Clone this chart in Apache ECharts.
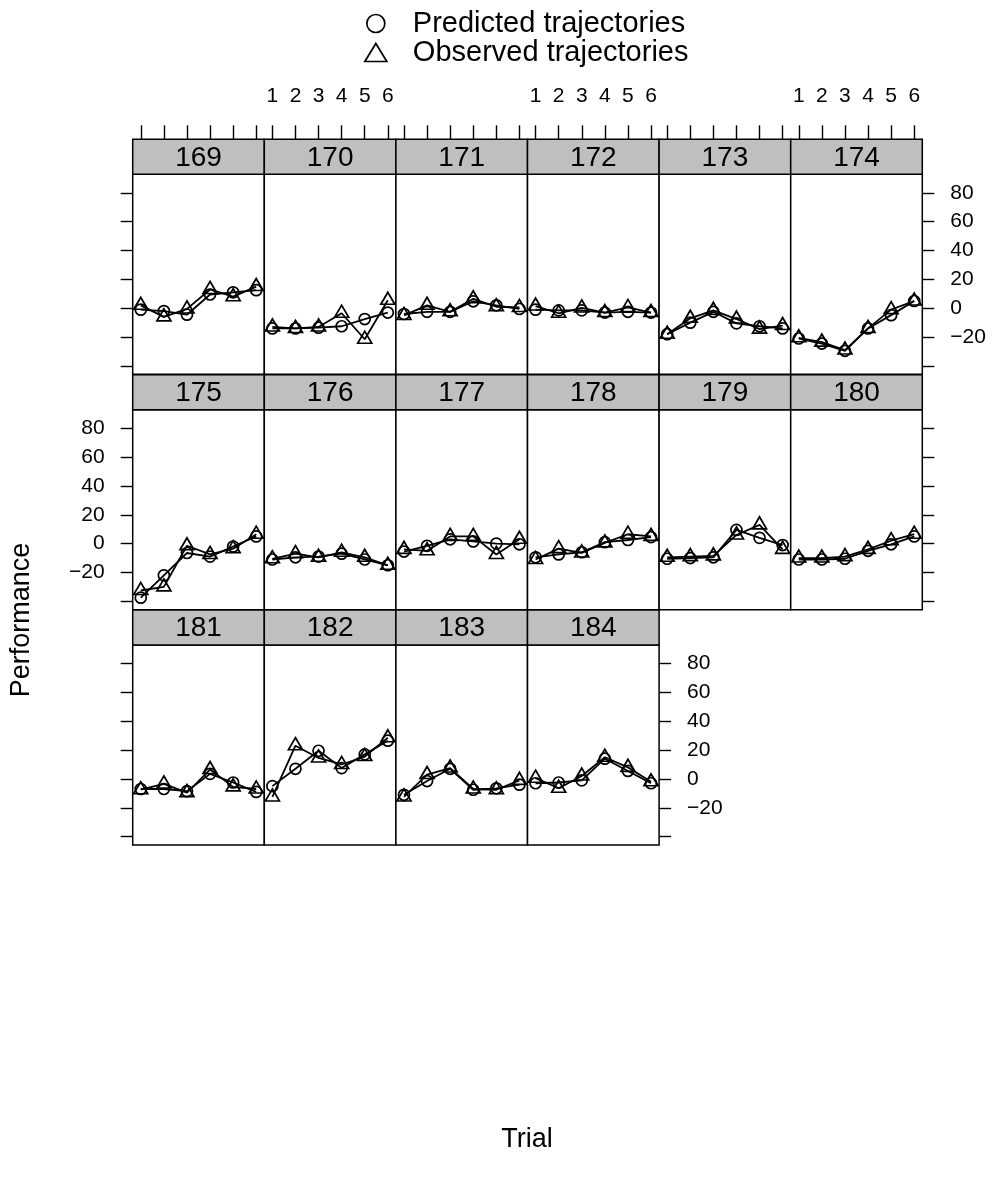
<!DOCTYPE html>
<html><head><meta charset="utf-8">
<script src="https://cdn.jsdelivr.net/npm/echarts@6/dist/echarts.min.js"></script>
<style>html,body{margin:0;padding:0;background:#fff}#c{width:995px;height:1187px}</style>
</head><body><div id="c"></div>
<script>
// ---- data ----
const subjects = ['169','170','171','172','173','174','175','176','177','178','179','180','181','182','183','184'];
const trials = [1, 2, 3, 4, 5, 6];
const predicted = [
  [-1, -2, -4.5, 9.5, 11, 12.5],
  [-14, -14, -13.5, -12.5, -7.5, -3],
  [-4, -2.5, -2.5, 4.8, 2, -0.5],
  [-1, -1.5, -1.5, -3, -2.5, -3],
  [-18, -10, -2.5, -10.5, -12.5, -14],
  [-21, -24.5, -29.5, -14, -4.8, 5],
  [-37.5, -22, -6.5, -9, -2, 5],
  [-11, -9.5, -9, -7, -11, -15],
  [-5.5, -1.5, 3, 1.5, 0, -0.5],
  [-9.5, -7.5, -6, 1, 2.5, 4.5],
  [-10.5, -10, -9.5, 9.5, 4, -1],
  [-11, -11, -10.5, -5, -0.5, 5],
  [-7, -7, -8.5, 3.5, -2.5, -9],
  [-5, 7, 19.5, 7.5, 17, 26.5],
  [-11, -1.5, 7, -7.5, -6.5, -4],
  [-3, -2.5, -1, 14, 5.5, -3]
];
const observed = [
  [2, -6, -0.5, 13, 8, 15],
  [-13, -14, -13, -3.5, -21.5, 5.5],
  [-5, 2, -2.5, 6.5, 1, 0.5],
  [1.5, -3.5, 0.2, -3, 0.5, -3],
  [-18, -7, -1.5, -7.5, -14.5, -12],
  [-20.5, -23.5, -29, -14, -1, 5],
  [-32.5, -30, -1.5, -7.5, -3.5, 6.5],
  [-10.5, -7, -9.5, -6, -9.5, -15],
  [-4, -5, 5, 5, -7.5, 3],
  [-11, -3.5, -6.5, 0.5, 6.5, 5],
  [-9.5, -9, -8.5, 6, 13, -4],
  [-10, -10, -9, -4, 2, 6.5],
  [-7.5, -3.5, -9.5, 6.5, -5.5, -7],
  [-12.5, 23, 14.5, 10, 15.5, 28.5],
  [-12.5, 3, 7.5, -7, -7.5, -1],
  [0.5, -6.5, 2, 15, 8, -2]
];
const yTickValues = [-40, -20, 0, 20, 40, 60, 80];
const yLabelValues = [-20, 0, 20, 40, 60, 80];
const xRange = [0.65, 6.35];
const yRange = [-45.8, 92.8];
const seriesNames = ['Predicted trajectories', 'Observed trajectories'];

// ---- layout ----
const FONT = '"Liberation Sans", Arial, Helvetica, sans-serif';
const L = { left: 132.7, colW: 131.6, tops: [174.3, 409.7, 645], h: 200, strip: 35, ncol: 6 };
const grids = [], xAxes = [], yAxes = [], series = [], graphics = [];
const minus = v => String(v).replace('-', '\u2212');
const hollow = { color: 'rgba(0,0,0,0)', borderColor: '#000', borderWidth: 1.7 };

subjects.forEach((s, i) => {
  const r = Math.floor(i / L.ncol), c = i % L.ncol;
  const left = L.left + c * L.colW, top = L.tops[r];
  const isLast = c === L.ncol - 1 || i === subjects.length - 1;
  grids.push({ left, top, width: L.colW, height: L.h, show: true, borderColor: '#000', borderWidth: 1.5, backgroundColor: '#fff' });
  xAxes.push({
    type: 'value', gridIndex: i, min: xRange[0], max: xRange[1],
    show: r === 0, position: 'top', offset: L.strip,
    axisLine: { show: false, onZero: false }, splitLine: { show: false },
    axisTick: { show: true, inside: false, length: 14, lineStyle: { color: '#000', width: 1.4 }, customValues: trials },
    axisLabel: { show: c % 2 === 1, customValues: trials, margin: 33, fontSize: 21, fontFamily: FONT, color: '#000' }
  });
  let yShow = false, yPos = 'left', yLab = false;
  if (c === 0) { yShow = true; yPos = 'left'; yLab = (r === 1); }
  else if (isLast) { yShow = true; yPos = 'right'; yLab = (r !== 1); }
  yAxes.push({
    type: 'value', gridIndex: i, min: yRange[0], max: yRange[1], show: yShow, position: yPos,
    axisLine: { show: false, onZero: false }, splitLine: { show: false },
    axisTick: { show: true, inside: false, length: 12, lineStyle: { color: '#000', width: 1.4 }, customValues: yTickValues },
    axisLabel: { show: yLab, customValues: yLabelValues, margin: 28, fontSize: 21, fontFamily: FONT, color: '#000', formatter: minus }
  });
  series.push({
    type: 'line', name: seriesNames[0], xAxisIndex: i, yAxisIndex: i,
    data: trials.map((t, k) => [t, predicted[i][k]]),
    symbol: 'circle', symbolSize: 11, itemStyle: hollow,
    lineStyle: { color: '#000', width: 1.8 }, animation: false, z: 3
  });
  series.push({
    type: 'line', name: seriesNames[1], xAxisIndex: i, yAxisIndex: i,
    data: trials.map((t, k) => [t, observed[i][k]]),
    symbol: 'triangle', symbolSize: [14, 12], symbolOffset: [0, -2], itemStyle: hollow,
    lineStyle: { color: '#000', width: 1.8 }, animation: false, z: 3
  });
  graphics.push({
    type: 'group', children: [
      { type: 'rect', shape: { x: left, y: top - L.strip, width: L.colW, height: L.strip }, style: { fill: '#bfbfbf', stroke: '#000', lineWidth: 1.5 } },
      { type: 'text', x: left + L.colW / 2, y: top - L.strip / 2 + 1, style: { text: s, fill: '#000', font: '28px ' + FONT, textAlign: 'center', textVerticalAlign: 'middle' } }
    ]
  });
});

graphics.push({ type: 'text', x: 22, y: 620, rotation: Math.PI / 2, style: { text: 'Performance', fill: '#000', font: '27px ' + FONT, textAlign: 'center', textVerticalAlign: 'middle' } });
graphics.push({ type: 'text', x: 527, y: 1140, style: { text: 'Trial', fill: '#000', font: '27px ' + FONT, textAlign: 'center', textVerticalAlign: 'middle' } });

const chart = echarts.init(document.getElementById('c'), null, { renderer: 'canvas' });
chart.setOption({
  animation: false,
  backgroundColor: '#fff',
  grid: grids, xAxis: xAxes, yAxis: yAxes, series,
  legend: {
    orient: 'vertical', left: 359, top: 4, itemGap: 0, itemWidth: 22, itemHeight: 18, selectedMode: false,
    textStyle: { fontSize: 29, lineHeight: 27, fontFamily: FONT, color: '#000', padding: [0, 0, 0, 21] },
    data: [
      { name: seriesNames[0], icon: 'circle', itemStyle: hollow },
      { name: seriesNames[1], icon: 'path://M11,0L22,18L0,18Z', itemStyle: hollow }
    ]
  },
  graphic: graphics
});
</script></body></html>
